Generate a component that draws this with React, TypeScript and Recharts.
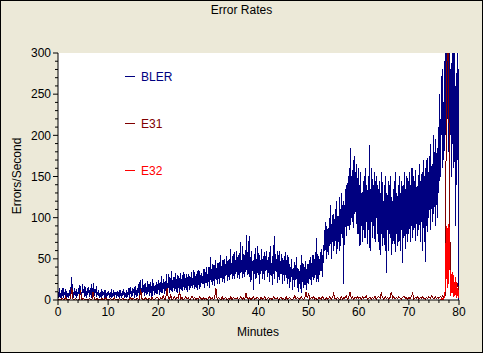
import { CartesianGrid, Legend, Line, LineChart, XAxis, YAxis } from 'recharts';

const BLER_STEP = 0.125; // minutes between BLER samples
const E31_STEP = 0.25;
const E32_STEP = 0.125;

// BLER, errors/second, one block per 10 minutes
const bler0 = [
  10, 2, 14, 4, 8, 1, 12, 5, 15, 3, 9, 6, 13, 2, 11, 4,
  9, 3, 12, 5, 16, 7, 28, 4, 10, 2, 14, 6, 11, 3, 13, 5,
  7, 15, 3, 18, 6, 10, 2, 20, 8, 13, 4, 17, 5, 11, 2, 14,
  9, 16, 4, 12, 6, 19, 3, 15, 7, 21, 5, 13, 8, 17, 4, 10,
  5, 12, 2, 9, 4, 13, 3, 11, 6, 10, 2, 12, 4, 9, 3, 10,
];
const bler10 = [
  6, 11, 2, 9, 4, 13, 3, 8, 5, 12, 2, 10, 6, 9, 3, 11,
  4, 10, 2, 12, 5, 8, 3, 11, 6, 13, 2, 9, 4, 12, 3, 10,
  6, 14, 3, 16, 7, 11, 4, 15, 8, 13, 3, 17, 6, 12, 4, 14,
  8, 19, 5, 24, 9, 15, 6, 26, 10, 18, 5, 21, 8, 16, 6, 23,
  10, 19, 5, 22, 8, 17, 4, 25, 11, 20, 6, 18, 9, 22, 7, 19,
];
const bler20 = [
  12, 24, 6, 22, 10, 29, 8, 20, 13, 26, 7, 23, 11, 31, 9, 21,
  14, 32, 9, 27, 12, 35, 10, 24, 15, 28, 11, 33, 13, 25, 9, 30,
  15, 29, 8, 33, 13, 26, 11, 30, 16, 34, 12, 27, 14, 31, 10, 28,
  17, 31, 12, 28, 15, 34, 14, 27, 18, 36, 13, 29, 16, 32, 12, 35,
  18, 36, 13, 30, 16, 33, 20, 29, 19, 38, 15, 34, 21, 40, 17, 31,
];
const bler30 = [
  22, 40, 15, 52, 24, 38, 18, 44, 23, 42, 17, 48, 26, 39, 20, 45,
  25, 46, 20, 55, 27, 41, 22, 48, 26, 50, 21, 44, 29, 53, 23, 47,
  28, 50, 24, 62, 30, 45, 26, 54, 29, 58, 25, 49, 31, 60, 27, 52,
  30, 57, 25, 70, 33, 49, 27, 66, 32, 55, 28, 61, 34, 79, 30, 58,
  32, 78, 28, 52, 22, 60, 35, 47, 12, 56, 31, 63, 26, 50, 33, 65,
];
const bler40 = [
  30, 55, 20, 48, 35, 62, 25, 50, 32, 58, 24, 53, 36, 60, 28, 49,
  33, 58, 22, 66, 30, 45, 18, 53, 31, 78, 25, 56, 34, 50, 21, 59,
  28, 60, 24, 47, 32, 56, 20, 51, 30, 54, 23, 58, 27, 48, 19, 55,
  25, 44, 15, 40, 28, 50, 12, 38, 24, 46, 16, 42, 26, 52, 14, 39,
  10, 35, 20, 42, 8, 55, 22, 45, 14, 40, 18, 47, 12, 38, 21, 44,
];
const bler50 = [
  20, 48, 25, 52, 18, 45, 28, 55, 24, 50, 27, 58, 22, 75, 26, 53,
  22, 50, 30, 58, 35, 62, 28, 56, 45, 85, 60, 95, 50, 90, 58, 88,
  55, 100, 65, 115, 50, 92, 70, 105, 60, 98, 66, 110, 56, 120, 62, 102,
  70, 125, 60, 110, 80, 130, 75, 120, 20, 115, 85, 135, 78, 140, 90, 150,
  90, 160, 85, 185, 100, 150, 95, 170, 88, 175, 105, 155, 92, 165, 80, 160,
];
const bler60 = [
  80, 140, 65, 155, 90, 130, 70, 145, 85, 150, 75, 160, 95, 140, 68, 150,
  85, 188, 60, 135, 95, 160, 75, 140, 90, 155, 70, 145, 100, 150, 80, 135,
  70, 145, 55, 130, 80, 155, 65, 120, 75, 140, 60, 150, 33, 130, 85, 145,
  60, 140, 75, 150, 55, 125, 68, 135, 72, 145, 58, 155, 80, 130, 65, 140,
  70, 150, 60, 130, 85, 145, 45, 140, 75, 155, 62, 135, 80, 150, 70, 145,
];
const bler70 = [
  80, 155, 70, 140, 90, 160, 75, 150, 85, 145, 72, 158, 92, 138, 78, 152,
  85, 165, 70, 145, 95, 155, 60, 170, 88, 150, 46, 160, 90, 172, 82, 155,
  100, 175, 85, 190, 110, 165, 95, 200, 105, 180, 90, 195, 115, 185, 100, 210,
  130, 250, 150, 220, 200, 280, 160, 240, 170, 290, 200, 320, 260, 330, 220, 310,
  180, 320, 200, 280, 150, 310, 190, 300, 160, 330, 90, 260, 140, 300, 170, 280,
  0,
];

// E31
const e31_0 = [0, 1, 0, 2, 1, 0, 3, 0, 1, 0, 2, 15, 1, 0, 2, 0, 0, 1, 12, 0, 2, 1, 0, 1, 0, 2, 1, 0, 10, 1, 0, 2, 0, 1, 0, 2, 0, 1, 3, 0];
const e31_10 = [1, 0, 2, 0, 1, 3, 0, 1, 0, 2, 0, 1, 2, 0, 1, 0, 0, 1, 3, 0, 2, 1, 0, 2, 1, 0, 13, 2, 0, 1, 3, 0, 1, 2, 0, 3, 1, 0, 2, 4];
const e31_20 = [2, 0, 3, 1, 5, 0, 2, 14, 3, 1, 6, 0, 2, 4, 1, 3, 2, 10, 1, 3, 0, 2, 4, 1, 3, 0, 2, 5, 1, 3, 0, 2, 1, 4, 2, 0, 3, 1, 2, 0];
const e31_30 = [2, 4, 1, 3, 0, 2, 15, 1, 3, 2, 0, 4, 1, 2, 3, 0, 2, 1, 4, 0, 3, 2, 1, 3, 0, 2, 4, 1, 3, 0, 8, 2, 1, 3, 0, 2, 4, 1, 2, 3];
const e31_40 = [2, 0, 3, 1, 2, 4, 0, 2, 3, 1, 2, 0, 4, 2, 1, 3, 0, 2, 3, 1, 2, 0, 4, 1, 2, 3, 1, 0, 2, 5, 1, 3, 2, 1, 4, 2, 0, 3, 10, 2];
const e31_50 = [8, 1, 3, 2, 4, 1, 2, 0, 3, 2, 1, 4, 2, 0, 3, 1, 2, 4, 1, 3, 8, 2, 1, 3, 2, 0, 4, 1, 3, 2, 5, 1, 3, 10, 2, 4, 1, 3, 2, 4];
const e31_60 = [2, 3, 1, 4, 2, 3, 5, 1, 2, 4, 1, 3, 2, 5, 1, 3, 4, 2, 8, 3, 1, 4, 2, 3, 1, 3, 10, 2, 4, 1, 3, 2, 4, 2, 1, 3, 5, 2, 3, 1];
const e31_70 = [3, 2, 4, 8, 1, 3, 2, 4, 1, 3, 2, 4, 2, 1, 3, 2, 4, 2, 5, 3, 1, 4, 2, 3, 2, 4, 3, 5, 2, 6, 260, 330, 220, 40, 15, 30, 8, 25, 12, 20, 5];

// E32 only shows up over the last minutes (from 76 min on)
const E32_START = 76;
const e32_tail = [
  0, 0, 0, 1, 0, 2, 0, 1, 2, 5, 12, 60, 90, 15, 88, 20,
  92, 40, 34, 5, 18, 34, 8, 30, 4, 22, 6, 28, 3, 14, 5, 12,
  3,
];

const BLER = [...bler0, ...bler10, ...bler20, ...bler30, ...bler40, ...bler50, ...bler60, ...bler70];
const E31 = [...e31_0, ...e31_10, ...e31_20, ...e31_30, ...e31_40, ...e31_50, ...e31_60, ...e31_70];

const yTicks = [0, 10, 20, 30, 40, 50, 60, 70, 80, 90, 100, 110, 120, 130, 140, 150, 160, 170, 180, 190, 200, 210, 220, 230, 240, 250, 260, 270, 280, 290, 300];
const xTicks = [0, 2, 4, 6, 8, 10, 12, 14, 16, 18, 20, 22, 24, 26, 28, 30, 32, 34, 36, 38, 40, 42, 44, 46, 48, 50, 52, 54, 56, 58, 60, 62, 64, 66, 68, 70, 72, 74, 76, 78, 80];

const blerData = BLER.map((v, i) => ({ t: i * BLER_STEP, v }));
const e31Data = E31.map((v, i) => ({ t: i * E31_STEP, v }));
const e32Data = e32_tail.map((v, i) => ({ t: E32_START + i * E32_STEP, v }));

const FONT = '"Liberation Sans", Arial, sans-serif';
const BG = '#ECE9D8';

function YTick({ x, y, payload }: any) {
  const major = payload.value % 50 === 0;
  const right = x + 7;
  return (
    <g>
      <line x1={right - (major ? 5 : 3)} x2={right} y1={y} y2={y} stroke="#000" />
      {major && (
        <text x={x} y={y} dy="0.36em" textAnchor="end" fontSize={12} fontFamily={FONT} fill="#000">
          {payload.value}
        </text>
      )}
    </g>
  );
}

function XTick({ x, y, payload }: any) {
  const major = payload.value % 10 === 0;
  const top = y - 7;
  return (
    <g>
      <line x1={x} x2={x} y1={top} y2={top + (major ? 5 : 3)} stroke="#000" />
      {major && (
        <text x={x} y={y} dy="0.71em" textAnchor="middle" fontSize={12} fontFamily={FONT} fill="#000">
          {payload.value}
        </text>
      )}
    </g>
  );
}

function LegendBox({ payload }: any) {
  return (
    <div style={{ fontFamily: FONT, fontSize: 12 }}>
      {(payload ?? []).map((p: any) => (
        <div key={p.value} style={{ display: 'flex', alignItems: 'center', height: 47, color: p.color }}>
          <span style={{ display: 'inline-block', width: 10, height: 1, background: p.color, marginRight: 6 }} />
          <span>{p.value}</span>
        </div>
      ))}
    </div>
  );
}

export default function App() {
  return (
    <div
      style={{
        position: 'absolute',
        left: 0,
        top: 0,
        width: 483,
        height: 353,
        boxSizing: 'border-box',
        border: '1px solid #000',
        background: BG,
        fontFamily: FONT,
      }}
    >
      <div style={{ position: 'absolute', left: 0, width: 481, top: 2, textAlign: 'center', fontSize: 12 }}>Error Rates</div>
      <div
        style={{
          position: 'absolute',
          left: 16,
          top: 175,
          fontSize: 12,
          whiteSpace: 'nowrap',
          transform: 'translate(-50%, -50%) rotate(-90deg)',
        }}
      >
        Errors/Second
      </div>
      <div style={{ position: 'absolute', left: 257, top: 331, fontSize: 12, transform: 'translate(-50%, -50%)' }}>Minutes</div>
      <LineChart width={481} height={351} margin={{ top: 52, right: 23, bottom: 0, left: 0 }}>
        <CartesianGrid horizontal={false} vertical={false} fill="#fff" />
        <XAxis
          dataKey="t"
          type="number"
          domain={[0, 80]}
          allowDataOverflow
          ticks={xTicks}
          interval={0}
          height={52}
          tickSize={5}
          tickMargin={2}
          tickLine={false}
          axisLine={{ stroke: '#000' }}
          tick={<XTick />}
        />
        <YAxis
          type="number"
          domain={[0, 300]}
          allowDataOverflow
          ticks={yTicks}
          interval={0}
          width={57}
          tickSize={5}
          tickMargin={2}
          tickLine={false}
          axisLine={{ stroke: '#000' }}
          tick={<YTick />}
        />
        <Legend
          layout="vertical"
          align="center"
          verticalAlign="middle"
          content={<LegendBox />}
          wrapperStyle={{ left: 124, top: 52, width: 'auto', height: 'auto' }}
        />
        <Line data={blerData} dataKey="v" name="BLER" stroke="#000080" strokeWidth={1} dot={false} type="linear" shapeRendering="crispEdges" isAnimationActive={false} />
        <Line data={e31Data} dataKey="v" name="E31" stroke="#800000" strokeWidth={1} dot={false} type="linear" shapeRendering="crispEdges" isAnimationActive={false} />
        <Line data={e32Data} dataKey="v" name="E32" stroke="#FF0000" strokeWidth={1} dot={false} type="linear" shapeRendering="crispEdges" isAnimationActive={false} />
      </LineChart>
    </div>
  );
}
